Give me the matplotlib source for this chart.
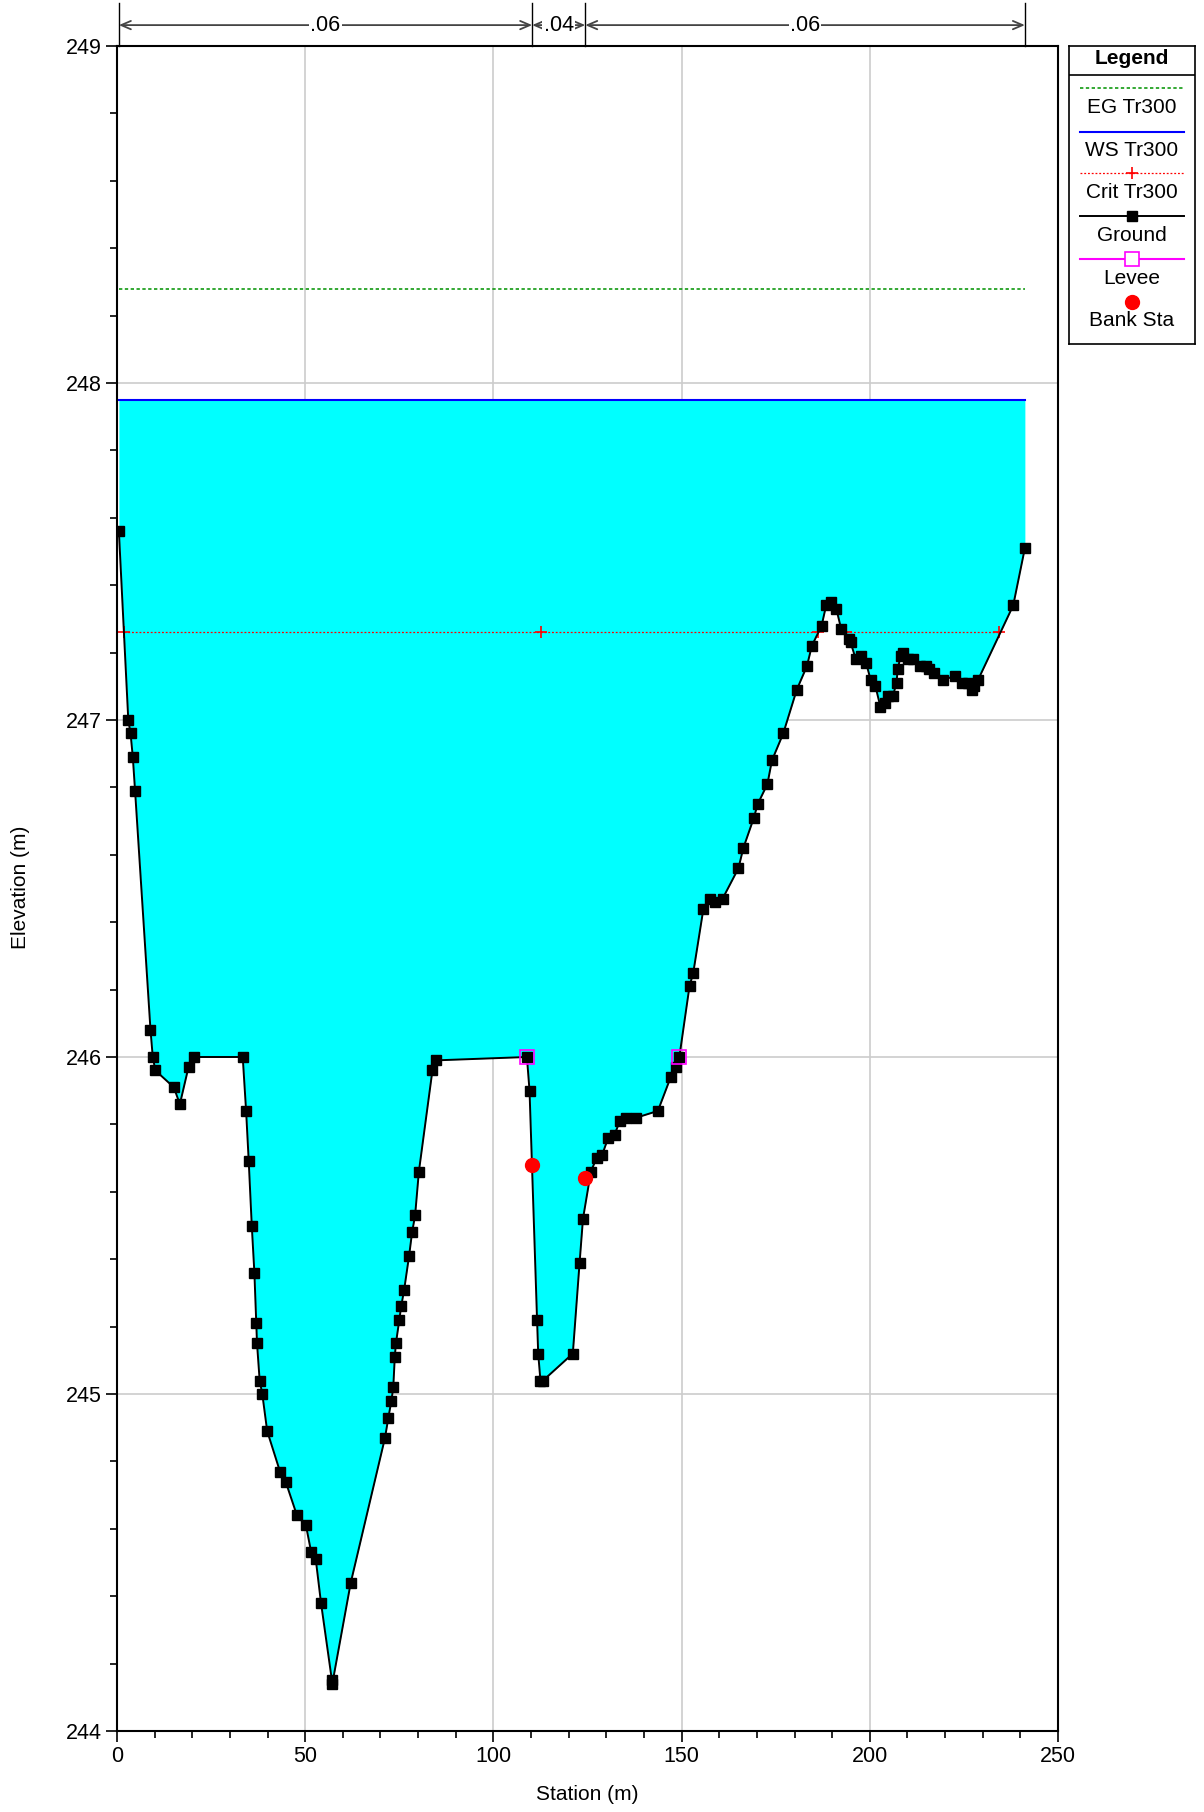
import matplotlib
matplotlib.use("Agg")
import matplotlib.pyplot as plt
from matplotlib.ticker import MultipleLocator
import numpy as np

plt.rcParams['font.family'] = ['Liberation Sans', 'DejaVu Sans']

# ground profile (station m, elevation m)
station = [0.5, 3.0, 3.6, 4.2, 4.8, 8.9, 9.5, 10.2, 15.1, 16.7, 19.0, 20.5,
           33.4, 34.3, 35.0, 35.8, 36.5, 37.0, 37.2, 37.9, 38.6, 39.9, 43.3,
           44.8, 47.8, 50.2, 51.6, 52.8, 54.2, 57.1, 57.2, 62.1, 71.2, 72.1,
           72.9, 73.4, 73.8, 74.1, 75.0, 75.5, 76.3, 77.6, 78.4, 79.2, 80.2,
           83.8, 84.7, 108.9, 109.6, 111.6, 111.9, 112.5, 113.2, 121.1, 122.9,
           123.8, 125.9, 127.4, 128.9, 130.5, 132.2, 133.6, 135.2, 138.0,
           143.7, 147.1, 148.6, 149.4, 152.1, 153.1, 155.8, 157.5, 158.9,
           160.9, 165.1, 166.4, 169.2, 170.2, 172.8, 174.0, 177.0, 180.6,
           183.3, 184.6, 187.2, 188.4, 189.8, 191.1, 192.4, 194.6, 194.9,
           196.3, 197.7, 199.0, 200.2, 201.5, 202.8, 204.1, 204.8, 206.1,
           207.1, 207.4, 208.2, 208.9, 210.1, 211.6, 213.3, 214.9, 215.8,
           217.1, 219.5, 222.7, 224.4, 226.0, 227.2, 227.7, 228.8, 238.1,
           241.2]
elevation = [247.56, 247.00, 246.96, 246.89, 246.79, 246.08, 246.00, 245.96,
             245.91, 245.86, 245.97, 246.00, 246.00, 245.84, 245.69, 245.50,
             245.36, 245.21, 245.15, 245.04, 245.00, 244.89, 244.77, 244.74,
             244.64, 244.61, 244.53, 244.51, 244.38, 244.15, 244.14, 244.44,
             244.87, 244.93, 244.98, 245.02, 245.11, 245.15, 245.22, 245.26,
             245.31, 245.41, 245.48, 245.53, 245.66, 245.96, 245.99, 246.00,
             245.90, 245.22, 245.12, 245.04, 245.04, 245.12, 245.39, 245.52,
             245.66, 245.70, 245.71, 245.76, 245.77, 245.81, 245.82, 245.82,
             245.84, 245.94, 245.97, 246.00, 246.21, 246.25, 246.44, 246.47,
             246.46, 246.47, 246.56, 246.62, 246.71, 246.75, 246.81, 246.88,
             246.96, 247.09, 247.16, 247.22, 247.28, 247.34, 247.35, 247.33,
             247.27, 247.24, 247.23, 247.18, 247.19, 247.17, 247.12, 247.10,
             247.04, 247.05, 247.07, 247.07, 247.11, 247.15, 247.19, 247.20,
             247.18, 247.18, 247.16, 247.16, 247.15, 247.14, 247.12, 247.13,
             247.11, 247.11, 247.09, 247.10, 247.12, 247.34, 247.51]

ws_elev = 247.95
eg_elev = 248.28
crit_elev = 247.26
crit_segments = [(1.9, 186.3), (193.6, 234.4)]
crit_marks = [1.9, 112.6, 186.3, 193.6, 234.4]

levee_sta = [108.9, 149.4]
levee_elev = [246.00, 246.00]
bank_sta = [110.3, 124.4]
bank_elev = [245.68, 245.64]

manning_breaks = [0.5, 110.3, 124.4, 241.2]
manning_n = ['.06', '.04', '.06']

W, H = 1204, 1812
fig = plt.figure(figsize=(W / 100, H / 100), dpi=100)
ax = fig.add_axes([117 / W, 1 - 1731 / H, 941 / W, 1685 / H])

st = np.array(station)
el = np.array(elevation)

ax.fill_between(st, el, ws_elev, color='#00FFFF', lw=0, zorder=2)
ax.plot([st[0], st[-1]], [ws_elev, ws_elev], color='#0000FF', lw=1.5, zorder=4)
ax.plot([st[0], st[-1]], [eg_elev, eg_elev], color='#119911', lw=1.2,
        linestyle=(0, (2, 1.5)), zorder=4)
for a, b in crit_segments:
    ax.plot([a, b], [crit_elev, crit_elev], color='red', lw=0.9,
            linestyle=(0, (1.5, 1.5)), zorder=4)
ax.plot(crit_marks, [crit_elev] * len(crit_marks), linestyle='none',
        marker='+', color='red', ms=8, mew=1.2, zorder=5)
ax.plot(st, el, color='black', lw=1.4, marker='s', ms=7, zorder=6)
ax.plot(levee_sta, levee_elev, linestyle='none', marker='s', ms=10,
        mfc='none', mec='#FF00FF', mew=1.2, zorder=7)
ax.plot(bank_sta, bank_elev, linestyle='none', marker='o', ms=10,
        color='red', zorder=8)

ax.set_xlim(0, 250)
ax.set_ylim(244, 249)
ax.xaxis.set_major_locator(MultipleLocator(50))
ax.xaxis.set_minor_locator(MultipleLocator(10))
ax.yaxis.set_major_locator(MultipleLocator(1))
ax.yaxis.set_minor_locator(MultipleLocator(0.2))
ax.grid(True, which='major', color='#CCCCCC', lw=1.2, zorder=0)
ax.set_axisbelow(True)
ax.tick_params(which='major', length=8, width=1.2, labelsize=15.5, pad=3)
ax.tick_params(which='minor', length=5, width=1.2)
for s in ax.spines.values():
    s.set_linewidth(1.5)

# manning's n bar above the plot
y_arrow = 249.062
y_top = 249.127
for x in manning_breaks:
    ax.plot([x, x], [249, y_top], color='black', lw=1, clip_on=False)
for i, n in enumerate(manning_n):
    x0, x1 = manning_breaks[i], manning_breaks[i + 1]
    ax.annotate('', xy=(x1, y_arrow), xytext=(x0, y_arrow),
                arrowprops=dict(arrowstyle='<->, head_length=0.7, head_width=0.3',
                                color='#444444', lw=1.3,
                                shrinkA=0, shrinkB=0),
                annotation_clip=False)
    ax.text((x0 + x1) / 2, y_arrow, n, ha='center', va='center', fontsize=15.5,
            bbox=dict(facecolor='white', edgecolor='none', pad=1),
            clip_on=False)

fig.text(21 / W, 1 - 887 / H, 'Elevation (m)', rotation=90, ha='center',
         va='center', fontsize=15)
fig.text(587 / W, 1 - 1795 / H, 'Station (m)', ha='center', va='center',
         fontsize=15)

# legend box
lg = fig.add_axes([1069 / W, 1 - 344 / H, 126 / W, 298 / H])
lg.set_xlim(0, 126)
lg.set_ylim(298, 0)
lg.set_xticks([])
lg.set_yticks([])
for s in lg.spines.values():
    s.set_linewidth(1.2)
lg.text(63, 13, 'Legend', ha='center', va='center', fontsize=15,
        fontweight='bold')
lg.plot([0, 126], [29, 29], color='black', lw=1.2)
xs = [11, 115]
lg.plot(xs, [42, 42], color='#119911', lw=1.2, linestyle=(0, (2, 1.5)))
lg.text(63, 61.5, 'EG Tr300', ha='center', va='center', fontsize=15)
lg.plot(xs, [85.7, 85.7], color='#0000FF', lw=1.5)
lg.text(63, 104, 'WS Tr300', ha='center', va='center', fontsize=15)
lg.plot(xs, [127, 127], color='red', lw=0.9, linestyle=(0, (1.5, 1.5)))
lg.plot([63], [127], marker='+', color='red', ms=8, mew=1.2)
lg.text(63, 147, 'Crit Tr300', ha='center', va='center', fontsize=15)
lg.plot(xs, [170, 170], color='black', lw=1.4)
lg.plot([63], [170], marker='s', color='black', ms=7)
lg.text(63, 189.7, 'Ground', ha='center', va='center', fontsize=15)
lg.plot(xs, [213, 213], color='#FF00FF', lw=1.5)
lg.plot([63], [213], marker='s', ms=10, mfc='white', mec='#FF00FF', mew=1.2)
lg.text(63, 232.5, 'Levee', ha='center', va='center', fontsize=15)
lg.plot([63], [255.6], marker='o', ms=10, color='red')
lg.text(63, 275, 'Bank Sta', ha='center', va='center', fontsize=15)

fig.savefig('out.png', dpi=100)
